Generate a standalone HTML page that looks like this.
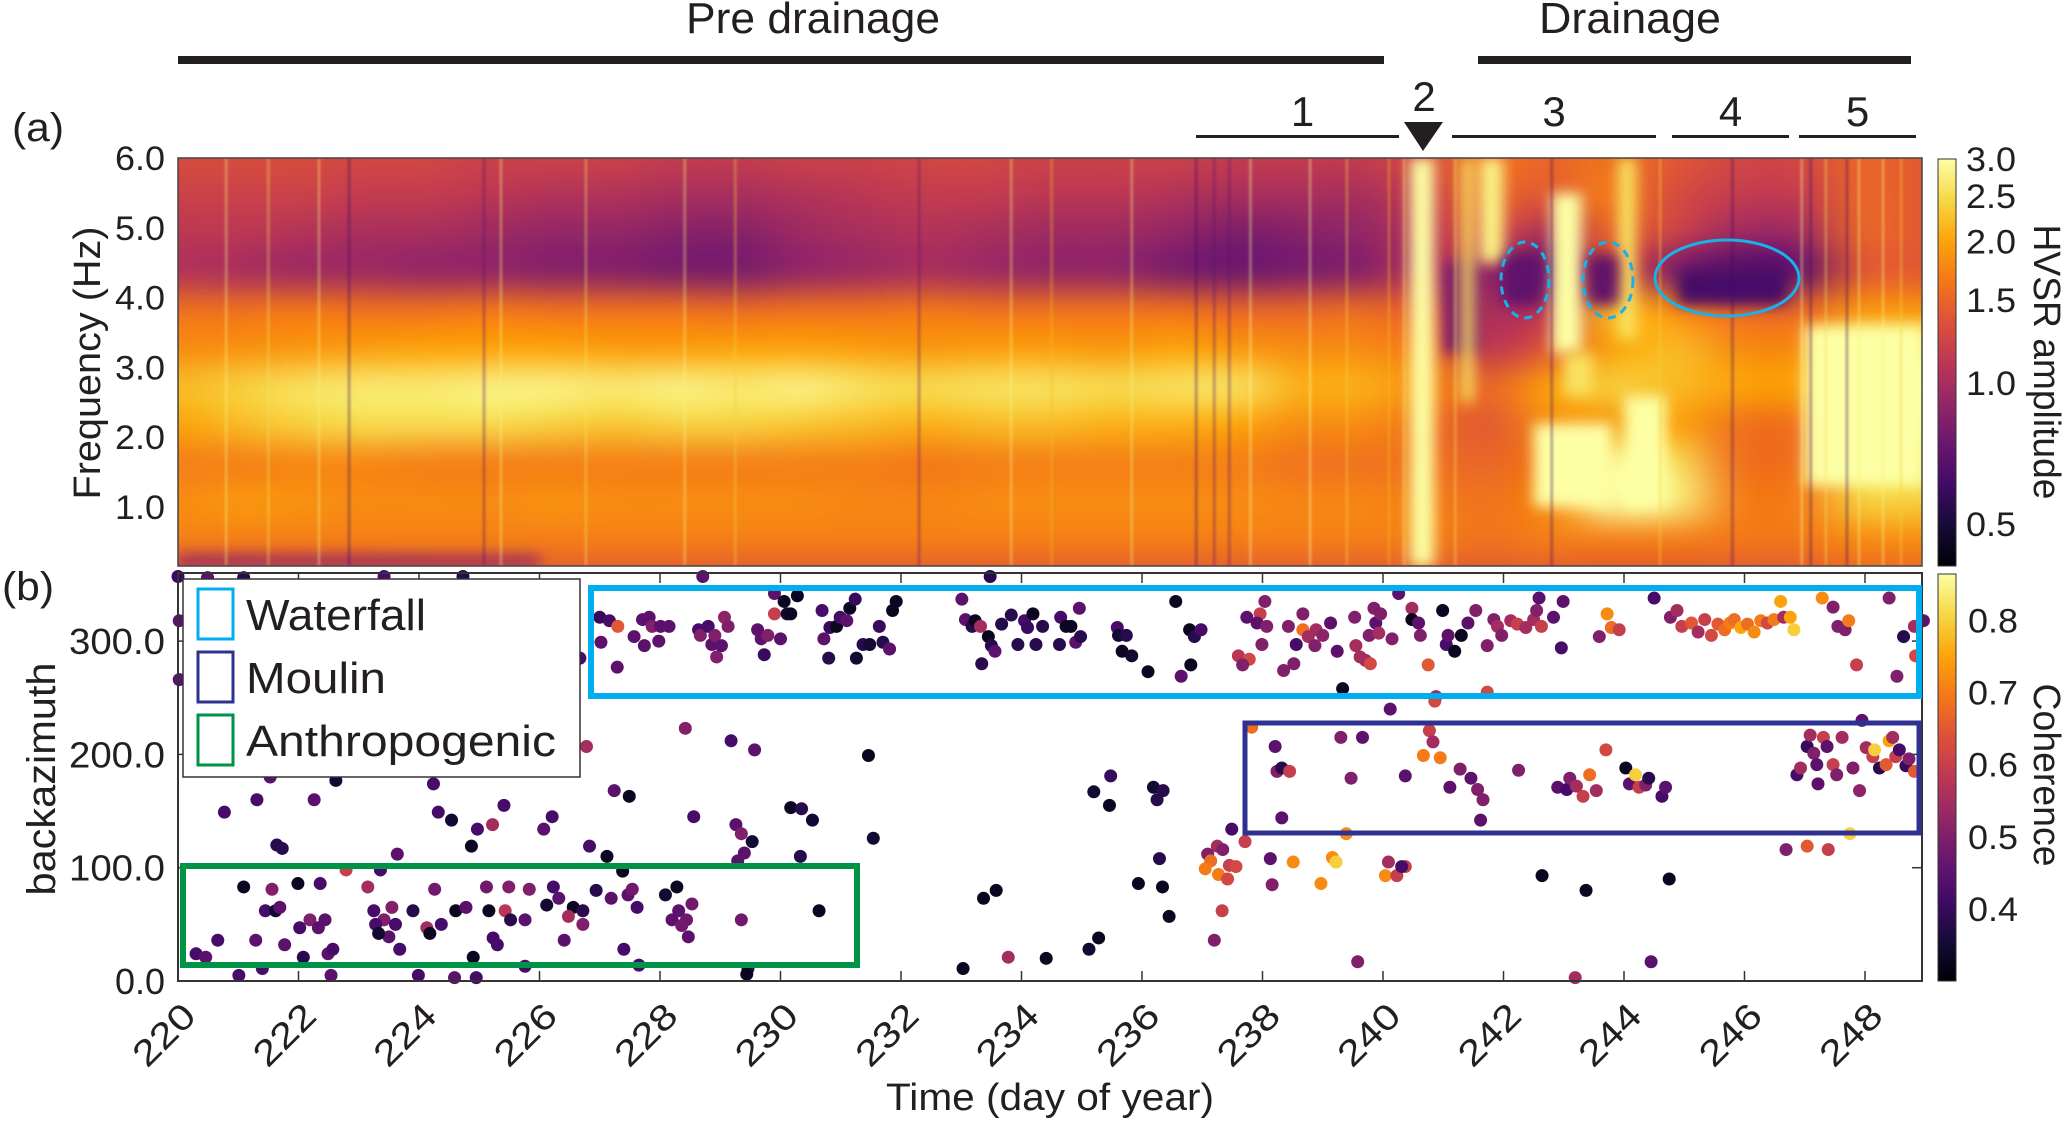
<!DOCTYPE html>
<html><head><meta charset="utf-8">
<style>
html,body{margin:0;padding:0;background:#fff;}
#wrap{position:relative;width:2067px;height:1122px;overflow:hidden;background:#fff;}
#spec{position:absolute;left:178px;top:158px;}
svg{position:absolute;left:0;top:0;}
text{font-family:"Liberation Sans",sans-serif;fill:#231f20;}
</style></head>
<body>
<div id="wrap">
<canvas id="spec" width="1744" height="408"></canvas>
<svg id="fig" width="2067" height="1122"></svg>
</div>
<script>
// ---------- Panel (a) data ----------
const specDays=[220,221,222,223,224,225,226,227,228,229,230,231,232,233,234,235,236,237,238,239,240,241,242,243,244,245,246,247,248];
const specFreqs=[5.75,5.25,4.75,4.25,3.75,3.25,2.75,2.25,1.75,1.25,0.75,0.25];
const specR0=[1.3,1.3,1.3,1.25,1.25,1.2,1.2,1.2,1.15,1.15,1.2,1.2,1.25,1.25,1.2,1.2,1.2,1.15,1.15,1.15,1.3,1.6,1.5,1.6,1.4,1.25,1.25,1.5,1.4];
const specR1=[1.2,1.2,1.2,1.15,1.15,1.1,1.05,1.05,1.0,1.0,1.05,1.1,1.15,1.15,1.1,1.1,1.05,1.0,1.0,1.0,1.2,1.5,1.4,1.7,1.3,1.15,1.15,1.5,1.4];
const specR2=[1.1,1.1,1.05,1.0,1.0,0.95,0.9,0.9,0.85,0.85,0.95,1.0,1.05,1.0,0.95,0.95,0.9,0.8,0.85,0.9,1.1,1.3,1.0,1.5,1.2,0.95,0.95,1.5,1.4];
const specR3=[1.05,1.0,0.95,0.95,0.9,0.9,0.85,0.85,0.8,0.8,0.9,0.95,1.0,0.95,0.9,0.9,0.8,0.75,0.8,0.85,1.1,0.9,0.7,1.3,0.8,0.65,0.7,1.4,1.4];
const specR4=[1.6,1.6,1.65,1.6,1.6,1.65,1.6,1.6,1.6,1.55,1.6,1.6,1.65,1.6,1.6,1.6,1.6,1.5,1.5,1.55,1.4,1.0,1.1,2.2,1.8,1.5,1.5,1.9,1.9];
const specR5=[1.8,1.85,1.9,1.95,2.0,2.0,2.0,1.95,1.95,2.0,2.0,1.95,1.9,1.95,1.95,1.9,2.0,1.9,1.8,1.8,1.6,1.1,1.4,2.0,2.2,1.8,1.8,2.6,2.6];
const specR6=[2.2,2.4,2.6,2.7,2.7,2.8,2.8,2.7,2.8,2.7,2.8,2.6,2.5,2.6,2.6,2.5,2.6,2.6,2.1,2.1,1.8,1.5,2.0,2.4,2.2,2.0,2.0,3.0,3.0];
const specR7=[2.0,2.2,2.4,2.5,2.5,2.5,2.4,2.3,2.4,2.4,2.3,2.2,2.1,2.2,2.2,2.1,2.1,2.0,1.8,1.8,1.6,1.4,1.8,1.9,2.0,1.6,1.6,2.8,2.8];
const specR8=[1.7,1.7,1.75,1.75,1.7,1.7,1.7,1.7,1.7,1.7,1.7,1.7,1.65,1.7,1.7,1.7,1.7,1.7,1.6,1.6,1.6,1.5,1.7,3.0,2.6,1.6,1.6,2.6,2.6];
const specR9=[1.8,1.9,1.85,1.8,1.8,1.8,1.85,1.8,1.8,1.8,1.8,1.75,1.75,1.8,1.8,1.8,1.8,1.8,1.75,1.75,1.7,1.6,1.8,3.0,2.8,1.7,1.7,2.4,2.4];
const specR10=[1.7,1.7,1.7,1.7,1.7,1.7,1.7,1.7,1.7,1.7,1.7,1.7,1.7,1.7,1.7,1.7,1.7,1.7,1.7,1.7,1.7,1.6,1.7,1.7,1.7,1.65,1.65,1.8,1.8];
const specR11=[1.3,1.3,1.35,1.35,1.4,1.4,1.4,1.4,1.4,1.4,1.4,1.4,1.4,1.4,1.4,1.4,1.4,1.4,1.4,1.4,1.4,1.4,1.4,1.4,1.4,1.4,1.4,1.5,1.5];
// feature patches: [dayStart, dayEnd, fLow, fHigh, amplitude]
const specPatches=[[220,226,0.15,0.3,0.9],[241.0,241.6,3.2,4.5,0.8],[241.3,241.5,2.5,6.0,2.6],[241.6,242.0,4.5,6.0,2.8],
[242.5,243.8,1.0,2.2,3.0],[242.8,243.3,3.2,5.5,3.0],[243.0,243.5,2.6,3.2,2.6],[244.0,244.7,1.0,2.6,3.0],[243.9,244.2,3.4,6.0,2.6],
[242.0,242.6,3.9,4.6,0.7],[243.4,243.9,3.9,4.6,0.7],[244.9,246.7,3.9,4.4,0.62],[247.0,249.0,1.3,3.6,3.0],[240.45,240.85,0.15,6.0,3.0]];
// vertical streaks: day, amplitude
const streakDays=[220.8,221.5,222.34,222.84,225.36,225.08,226.77,228.41,229.25,232.3,233.83,234.5,235.83,236.9,237.2,237.45,237.8,238.79,239.4,240.1,240.35,241.2,242.8,244.6,245.8,246.95,247.1,247.35,247.7,247.9,248.3,248.6];
const streakAmps=[2.8,2.6,2.8,0.6,2.8,0.7,2.6,2.8,2.4,0.7,2.8,2.2,2.8,0.6,0.7,0.7,3.0,3.0,2.4,2.2,2.6,2.6,0.6,2.4,0.6,3.0,0.6,2.6,0.6,2.8,2.8,2.4];
const freqTicks=[6.0,5.0,4.0,3.0,2.0,1.0];
const hvsrTicks=[3.0,2.5,2.0,1.5,1.0,0.5];

// ---------- Panel (b) data ----------
const dayTicks=[220,222,224,226,228,230,232,234,236,238,240,242,244,246,248];
const bazTicks=[0,100,200,300];
const cohTicks=[0.4,0.5,0.6,0.7,0.8];
const ptDay=[220.0,220.49,221.09,223.42,224.73,228.71,233.48,220.02,220.02,226.67,226.78,227.0,227.02,227.16,227.3,227.29,227.57,227.71,227.74,227.82,227.87,227.98,228.01,228.15,228.64,228.67,228.8,228.86,228.91,228.94,229.02,229.07,229.13,229.62,229.68,229.73,229.79,229.9,229.9,230.0,230.06,230.11,230.17,230.28,230.69,230.72,230.8,230.82,230.93,230.99,231.1,231.15,231.24,231.26,231.37,231.48,231.64,231.7,231.81,231.86,231.92,233.01,233.07,233.18,233.23,233.32,233.34,233.45,233.5,233.56,233.67,233.83,233.94,234.05,234.1,
228.42,229.18,229.57,231.46,221.53,222.62,224.24,227.24,227.49,220.77,221.31,222.26,224.32,224.54,225.41,224.97,225.22,226.07,226.21,228.56,229.26,229.35,229.53,230.17,230.35,230.53,231.54,221.64,221.73,223.64,224.87,226.83,227.12,229.4,229.29,230.33,
222.79,223.36,227.38,221.09,221.56,221.99,222.36,223.15,224.26,225.12,225.49,225.83,226.23,226.94,227.19,227.47,227.54,228.09,228.28,228.53,226.32,226.12,226.56,226.72,226.72,226.48,227.62,228.31,228.2,228.44,228.36,228.47,229.35,230.64,221.45,221.62,221.69,222.19,222.44,222.02,222.33,223.25,223.55,223.42,223.28,223.61,223.9,223.5,223.33,224.13,224.18,224.37,224.61,224.78,225.16,225.43,225.52,225.76,225.23,225.3,226.41,220.66,221.29,221.77,223.68,227.4,220.3,220.46,222.08,222.49,222.57,224.9,233.78,233.03,221.4,225.76,227.65,229.46,229.44,221.01,222.54,223.99,224.59,224.95,233.37,233.58,
234.19,234.35,234.65,234.74,234.82,234.24,234.63,234.9,234.96,234.98,235.59,235.61,235.74,235.67,235.83,236.1,236.56,236.65,236.79,236.87,236.98,236.81,238.04,237.96,237.74,237.91,238.07,237.99,237.6,237.78,237.67,238.35,238.52,238.43,238.67,238.67,238.56,238.76,238.87,238.89,239.0,239.13,239.24,239.53,239.55,239.62,239.71,239.79,239.85,239.88,239.96,239.77,239.93,240.15,240.26,240.48,240.48,240.59,240.62,240.75,240.99,241.05,241.08,241.19,241.3,241.41,241.54,241.73,241.84,241.9,241.97,242.12,242.23,242.37,242.5,242.59,242.55,242.63,242.83,242.99,242.96,243.59,243.72,243.79,243.92,244.5,244.77,244.88,244.96,245.12,245.23,245.34,245.45,245.56,245.67,245.76,245.83,245.94,246.05,246.16,246.27,246.38,246.49,246.6,246.65,246.76,246.82,247.29,247.47,247.55,247.67,247.73,247.86,248.4,248.53,248.64,248.82,248.84,248.97,239.33,240.12,240.88,241.73,240.86,
237.82,238.21,238.24,238.32,238.45,238.32,239.3,239.66,239.47,240.37,240.67,240.77,240.83,240.95,241.11,241.28,241.46,241.57,241.66,241.62,242.25,242.9,243.05,243.1,243.21,243.32,243.43,243.54,243.7,244.03,244.09,244.19,244.25,244.36,244.41,244.63,244.69,246.87,246.93,247.04,247.09,247.15,247.2,247.31,247.37,247.47,247.53,247.62,247.8,247.91,247.95,248.02,248.13,248.16,248.24,248.35,248.4,248.46,248.51,248.57,248.68,248.73,248.82,247.22,247.75,
246.69,247.04,247.39,239.39,237.49,237.71,237.25,237.34,237.09,237.14,237.05,237.27,237.42,237.45,237.56,238.13,238.51,239.16,239.22,238.16,238.97,240.09,240.04,240.23,240.37,240.31,235.48,235.2,235.46,236.19,236.35,236.25,236.29,235.94,236.34,236.45,235.28,235.12,234.41,242.64,243.37,244.75,237.33,237.2,239.58,244.45,243.19];
const ptBaz=[357,356,356,357,357,357,357,318,266,285,207,321,299,318,313,277,304,319,296,321,313,300,313,313,310,305,313,297,305,286,296,321,313,310,302,288,305,342,324,302,335,324,324,340,327,302,285,312,313,321,318,329,337,285,297,297,313,299,293,327,335,337,319,313,318,313,280,304,296,291,315,323,297,318,312,
223,212,204,199,180,177,174,168,163,149,160,160,149,142,155,134,138,134,145,145,138,130,123,153,152,142,126,120,117,112,119,119,110,113,106,110,
98,98,97,83,81,86,86,83,81,83,83,81,83,80,73,76,81,76,83,68,73,67,65,62,50,57,65,62,54,54,49,39,54,62,62,62,65,54,54,47,47,62,65,54,50,50,62,39,42,47,42,50,62,65,62,62,54,54,38,32,36,36,36,32,28,28,24,21,21,24,28,21,21,11,11,13,14,11,6,5,5,5,3,3,73,80,
324,313,321,313,313,297,297,299,329,304,312,305,305,291,287,273,335,269,310,304,310,279,335,324,321,316,313,297,287,284,279,274,280,313,324,310,297,304,296,310,305,316,291,321,296,286,283,280,329,316,324,305,307,302,342,329,319,316,305,279,327,297,305,291,305,316,327,296,319,313,305,318,315,312,319,338,327,313,321,335,294,304,324,312,310,338,321,327,313,316,308,319,305,315,310,316,319,312,315,308,318,316,319,335,321,321,310,338,330,313,310,318,279,338,269,304,313,287,318,258,240,251,255,247,
224,207,185,188,185,144,215,215,179,181,199,221,211,197,171,187,179,169,160,142,186,171,169,179,172,163,182,168,204,188,174,182,171,173,179,163,171,182,188,207,217,201,191,215,207,191,182,215,188,168,230,206,198,204,188,191,212,215,198,204,190,196,185,174,130,
116,119,116,130,134,123,119,116,112,106,99,94,90,102,101,108,105,109,105,85,86,105,93,93,101,101,181,167,155,171,168,160,108,86,83,57,38,28,20,93,80,90,62,36,17,17,3];
const ptCoh=[.40,.45,.38,.42,.38,.45,.38,.45,.45,.42,.55,.40,.45,.42,.65,.45,.45,.45,.45,.45,.50,.45,.45,.45,.42,.50,.42,.45,.50,.50,.45,.52,.50,.45,.45,.40,.50,.45,.60,.45,.33,.35,.33,.33,.42,.45,.38,.40,.33,.42,.45,.33,.40,.35,.38,.35,.40,.38,.45,.33,.33,.45,.45,.38,.33,.55,.38,.33,.38,.45,.38,.38,.38,.42,.40,
.50,.42,.45,.33,.45,.35,.42,.45,.33,.42,.42,.45,.42,.35,.42,.42,.55,.45,.42,.42,.45,.50,.35,.33,.38,.35,.35,.38,.38,.45,.33,.42,.33,.45,.45,.38,
.60,.42,.33,.33,.50,.33,.42,.55,.48,.48,.50,.50,.42,.38,.45,.45,.48,.35,.33,.48,.45,.35,.33,.38,.50,.55,.42,.45,.45,.48,.48,.45,.48,.33,.42,.35,.45,.50,.45,.42,.45,.42,.50,.50,.42,.42,.38,.45,.35,.55,.33,.42,.33,.45,.33,.58,.38,.45,.42,.42,.45,.42,.45,.45,.42,.42,.42,.45,.38,.45,.42,.33,.55,.33,.42,.42,.42,.38,.33,.42,.45,.42,.45,.42,.33,.33,
.33,.38,.42,.33,.33,.38,.38,.45,.45,.38,.42,.35,.38,.33,.35,.33,.33,.45,.33,.38,.42,.33,.50,.60,.45,.45,.50,.50,.58,.62,.50,.50,.50,.50,.50,.68,.42,.55,.50,.55,.52,.45,.45,.50,.55,.55,.55,.62,.50,.45,.50,.50,.55,.50,.45,.55,.33,.45,.50,.65,.33,.42,.45,.33,.33,.45,.50,.50,.50,.55,.50,.55,.60,.55,.55,.45,.50,.60,.45,.45,.42,.50,.72,.68,.60,.42,.50,.55,.60,.65,.55,.60,.62,.65,.68,.70,.68,.75,.68,.72,.70,.62,.70,.75,.55,.75,.80,.72,.50,.50,.50,.70,.60,.50,.50,.38,.55,.62,.45,.33,.45,.55,.62,.62,.68,
.45,.50,.38,.60,.45,.50,.45,.50,.45,.70,.60,.55,.70,.45,.50,.45,.50,.50,.45,.50,.45,.42,.50,.55,.60,.68,.55,.62,.33,.45,.80,.60,.50,.38,.42,.45,.42,.55,.40,.55,.50,.45,.60,.45,.60,.50,.55,.50,.52,.45,.55,.60,.80,.38,.65,.75,.55,.60,.42,.40,.50,.65,.45,.80,.50,
.65,.60,.72,.42,.60,.55,.50,.50,.68,.70,.70,.62,.60,.62,.45,.72,.72,.80,.50,.72,.55,.72,.60,.60,.42,.40,.35,.33,.35,.38,.38,.38,.33,.33,.33,.33,.35,.33,.33,.33,.33,.60,.50,.50,.45,.55,.45];

// ---------- helpers ----------
const INF=[[0,0,4],[22,11,57],[66,10,104],[106,23,110],[147,38,103],[188,55,84],[221,81,58],[243,120,25],[252,165,10],[246,215,70],[252,255,164]];
function inferno(t){t=Math.max(0,Math.min(1,t));const s=t*10,i=Math.min(9,Math.floor(s)),f=s-i;const a=INF[i],b=INF[i+1];
 return 'rgb('+Math.round(a[0]+(b[0]-a[0])*f)+','+Math.round(a[1]+(b[1]-a[1])*f)+','+Math.round(a[2]+(b[2]-a[2])*f)+')';}
const HV_MIN=0.406,HV_MAX=3.0;
function hvT(v){return Math.log(v/HV_MIN)/Math.log(HV_MAX/HV_MIN);}
const X0=178,DX=60.25;
function xDay(d){return X0+(d-220)*DX;}
function yFreq(f){return 158+(6-f)*69.8;}
function yBaz(b){return 981-b*1.133;}
function yHv(v){return 159+Math.log(3/v)*203.7;}
function yCoh(c){return 981-(c-0.3)*(408/0.566);}
function cohT(c){return (c-0.3)/0.566;}

// ---------- spectrogram ----------
(function(){
 const cv=document.getElementById('spec'),ctx=cv.getContext('2d');
 const rows=[specR0,specR1,specR2,specR3,specR4,specR5,specR6,specR7,specR8,specR9,specR10,specR11];
 const sm=document.createElement('canvas');sm.width=specDays.length;sm.height=specFreqs.length;
 const sc=sm.getContext('2d');
 rows.forEach((r,j)=>r.forEach((v,i)=>{sc.fillStyle=inferno(hvT(v));sc.fillRect(i,j,1,1);}));
 ctx.imageSmoothingEnabled=true;ctx.imageSmoothingQuality='high';
 ctx.filter='blur(4px)';
 ctx.drawImage(sm,0,0,sm.width,sm.height,xDay(specDays[0])-X0-DX/2,yFreq(6)-158-20,sm.width*DX+DX,sm.height*34.9+40);
 ctx.filter='blur(7px)';
 specPatches.forEach(p=>{ctx.fillStyle=inferno(hvT(p[4]));
  ctx.fillRect(xDay(p[0])-X0,yFreq(p[3])-158,(p[1]-p[0])*DX,(p[3]-p[2])*69.8);});
 ctx.filter='blur(1px)';
 streakDays.forEach((d,i)=>{ctx.globalAlpha=0.5;ctx.fillStyle=inferno(hvT(streakAmps[i]));
  ctx.fillRect(xDay(d)-X0-1,0,2,408);});
 ctx.globalAlpha=1;ctx.filter='none';
})();

// ---------- SVG ----------
const svg=document.getElementById('fig');const NS='http://www.w3.org/2000/svg';
function mk(tag,attrs,parent){const e=document.createElementNS(NS,tag);for(const k in attrs)e.setAttribute(k,attrs[k]);(parent||svg).appendChild(e);return e;}
function txt(s,attrs,parent){const e=mk('text',attrs,parent);e.textContent=s;return e;}

const defs=mk('defs',{});
const grad=mk('linearGradient',{id:'inf',x1:0,y1:1,x2:0,y2:0},defs);
INF.forEach((c,i)=>mk('stop',{offset:(i/10),'stop-color':'rgb('+c.join(',')+')'},grad));

let e=mk('rect',{x:178,y:158,width:1744,height:408,fill:'none',stroke:'#444','stroke-width':1.5});


let g=mk('g',{});
e=mk('rect',{x:178,y:56,width:1206,height:8,fill:'#231f20'},g);
e=mk('rect',{x:1478,y:56,width:433,height:8,fill:'#231f20'},g);
e=txt('Pre drainage',{x:813,y:33,'font-size':44,'text-anchor':'middle',textLength:254,lengthAdjust:'spacingAndGlyphs'},g);
e=txt('Drainage',{x:1630,y:33,'font-size':44,'text-anchor':'middle',textLength:182,lengthAdjust:'spacingAndGlyphs'},g);
const periods=[[1196,1399,'1'],[1452,1656,'3'],[1672,1789,'4'],[1799,1916,'5']];
periods.forEach(p=>{let l=mk('rect',{x:p[0],y:135,width:p[1]-p[0],height:3,fill:'#231f20'},g);
 let t=txt(p[2],{x:(p[0]+p[1])/2+(p[2]==='1'?5:0),y:126,'font-size':42,'text-anchor':'middle'},g);});
e=mk('polygon',{points:'1404,122 1443,122 1423,151',fill:'#231f20'},g);
e=txt('2',{x:1424,y:111,'font-size':42,'text-anchor':'middle'},g);
e=txt('(a)',{x:12,y:141,'font-size':40,textLength:52,lengthAdjust:'spacingAndGlyphs'});
e=txt('(b)',{x:2,y:600,'font-size':40,textLength:52,lengthAdjust:'spacingAndGlyphs'});

e=mk('ellipse',{cx:1727,cy:278,rx:72,ry:38,fill:'none',stroke:'#19b1ea','stroke-width':3});
e=mk('ellipse',{cx:1525,cy:280,rx:24,ry:38,fill:'none',stroke:'#19b1ea','stroke-width':3,'stroke-dasharray':'8 6'});
e=mk('ellipse',{cx:1608,cy:280,rx:25,ry:38,fill:'none',stroke:'#19b1ea','stroke-width':3,'stroke-dasharray':'8 6'});

freqTicks.forEach(f=>{let t=txt(f.toFixed(1),{x:165,y:yFreq(f)+12,'font-size':34,'text-anchor':'end',textLength:50,lengthAdjust:'spacingAndGlyphs'});
 });
e=txt('Frequency (Hz)',{x:0,y:0,'font-size':38,'text-anchor':'middle',transform:'translate(100,363) rotate(-90)',textLength:273,lengthAdjust:'spacingAndGlyphs'});


e=mk('rect',{x:1938,y:159,width:18,height:407,fill:'url(#inf)',stroke:'#333','stroke-width':1});
hvsrTicks.forEach(v=>{let t=txt(v.toFixed(1),{x:1966,y:yHv(v)+12,'font-size':34,textLength:50,lengthAdjust:'spacingAndGlyphs'});
 });
e=txt('HVSR amplitude',{x:0,y:0,'font-size':38,'text-anchor':'middle',transform:'translate(2034,362) rotate(90)',textLength:275,lengthAdjust:'spacingAndGlyphs'});


const ax=mk('g',{});
dayTicks.forEach(d=>{const x=xDay(d);
 let a=mk('line',{x1:x,y1:981,x2:x,y2:971,stroke:'#333','stroke-width':1.5},ax);
 let b=mk('line',{x1:x,y1:573,x2:x,y2:583,stroke:'#333','stroke-width':1.5},ax);
 let t=txt(String(d),{x:0,y:0,'font-size':36,'text-anchor':'end',transform:'translate('+(x+20)+',1018) rotate(-45)',textLength:72,lengthAdjust:'spacingAndGlyphs'},ax);
 });
bazTicks.forEach(b=>{const y=yBaz(b);
 let a=mk('line',{x1:178,y1:y,x2:188,y2:y,stroke:'#333','stroke-width':1.5},ax);
 let c=mk('line',{x1:1922,y1:y,x2:1912,y2:y,stroke:'#333','stroke-width':1.5},ax);
 let t=txt(b.toFixed(1),{x:165,y:y+13,'font-size':36,'text-anchor':'end',textLength:b===0?50:96,lengthAdjust:'spacingAndGlyphs'},ax);
 });
e=txt('backazimuth',{x:0,y:0,'font-size':40,'text-anchor':'middle',transform:'translate(55,779) rotate(-90)',textLength:233,lengthAdjust:'spacingAndGlyphs'});

e=txt('Time (day of year)',{x:1050,y:1110,'font-size':38,'text-anchor':'middle',textLength:328,lengthAdjust:'spacingAndGlyphs'});


const pg=mk('g',{});
ptDay.forEach((d,i)=>{const c=mk('circle',{cx:xDay(d),cy:yBaz(ptBaz[i]),r:6.5,fill:inferno(cohT(ptCoh[i]))},pg);
 
 });

e=mk('rect',{x:178,y:573,width:1744,height:408,fill:'none',stroke:'#333','stroke-width':2});

e=mk('rect',{x:591,y:588,width:1328,height:108,fill:'none',stroke:'#00aeef','stroke-width':6});
e=mk('rect',{x:1245,y:723,width:674,height:110,fill:'none',stroke:'#2e3192','stroke-width':5});
e=mk('rect',{x:183,y:866,width:674,height:99,fill:'none',stroke:'#009245','stroke-width':6});

const lg=mk('g',{});
e=mk('rect',{x:183,y:579,width:397,height:198,fill:'#fff',stroke:'#333','stroke-width':1.5},lg);
const legNames=['Waterfall','Moulin','Anthropogenic'];
const legColors=['#00aeef','#2e3192','#009245'];
const legWidths=[180,140,310];
legNames.forEach((n,i)=>{const y0=589+i*63;
 let s=mk('rect',{x:198,y:y0,width:35,height:50,fill:'none',stroke:legColors[i],'stroke-width':3},lg);
 let t=txt(n,{x:246,y:y0+41,'font-size':44,textLength:legWidths[i],lengthAdjust:'spacingAndGlyphs'},lg);});

e=mk('rect',{x:1938,y:574,width:18,height:407,fill:'url(#inf)',stroke:'#333','stroke-width':1});
cohTicks.forEach(c=>{let t=txt(c.toFixed(1),{x:1968,y:yCoh(c)+12,'font-size':34,textLength:50,lengthAdjust:'spacingAndGlyphs'});
 });
e=txt('Coherence',{x:0,y:0,'font-size':38,'text-anchor':'middle',transform:'translate(2034,775) rotate(90)',textLength:183,lengthAdjust:'spacingAndGlyphs'});

</script>
</body></html>
